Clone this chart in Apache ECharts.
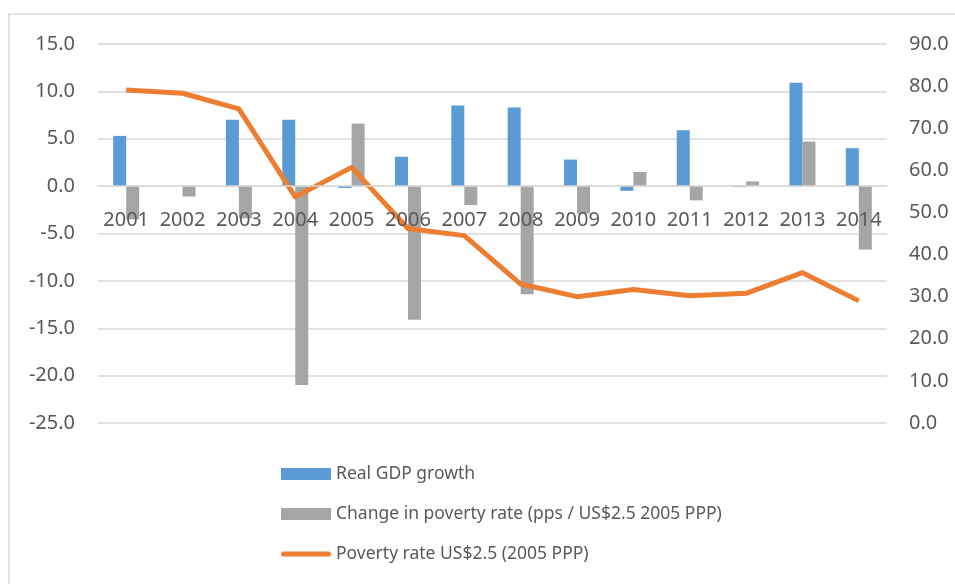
<!DOCTYPE html>
<html>
<head>
<meta charset="utf-8">
<script src="https://cdn.jsdelivr.net/npm/echarts@6/dist/echarts.min.js"></script>
<style>
  html, body { margin: 0; padding: 0; background: #fff; }
  #chart { width: 955px; height: 584px; }
</style>
</head>
<body>
<div id="chart"></div>
<script>
const years = ['2001', '2002', '2003', '2004', '2005', '2006', '2007', '2008', '2009', '2010', '2011', '2012', '2013', '2014']
const gdpGrowth = [5.3, 0, 7.0, 7.0, -0.2, 3.1, 8.5, 8.3, 2.8, -0.5, 5.9, -0.1, 10.9, 4.0]
const povertyChange = [-3.5, -1.1, -3.4, -21.0, 6.6, -14.1, -2.0, -11.4, -2.9, 1.5, -1.5, 0.5, 4.7, -6.7]
const povertyRate = [79.1, 78.3, 74.6, 53.7, 60.7, 46.2, 44.5, 33.0, 30.0, 31.7, 30.2, 30.8, 35.7, 29.0]

const textColor = '#595959'
const gridColor = '#D9D9D9'
const font = 'Noto Sans'

// rounded thick line for the legend of the line series
const lineIcon = 'path://M2.5,0 L47.5,0 A2.5,2.5,0,0,1,47.5,5 L2.5,5 A2.5,2.5,0,0,1,2.5,0 Z'

const chart = echarts.init(document.getElementById('chart'))

const option = {
  animation: false,
  backgroundColor: '#fff',
  textStyle: { fontFamily: font },
  graphic: [{
    type: 'rect',
    shape: { x: 9, y: 14, width: 960, height: 600 },
    style: { fill: 'none', stroke: gridColor, lineWidth: 1.5 },
    silent: true
  }],
  grid: { left: 98, right: 68, top: 44, bottom: 161, containLabel: false },
  legend: {
    orient: 'vertical',
    left: 276,
    top: 460,
    itemWidth: 50,
    itemHeight: 12,
    itemGap: 22,
    symbolKeepAspect: true,
    textStyle: { color: textColor, fontSize: 17.5, fontFamily: font },
    data: [
      { name: 'Real GDP growth', icon: 'rect' },
      { name: 'Change in poverty rate (pps / US$2.5 2005 PPP)', icon: 'rect' },
      { name: 'Poverty rate US$2.5 (2005 PPP)', icon: lineIcon }
    ]
  },
  xAxis: {
    type: 'category',
    data: years,
    axisLine: { onZero: true, onZeroAxisIndex: 0, lineStyle: { color: gridColor, width: 1.5 } },
    axisTick: { show: false },
    // labels sit just under the zero line, over the bars
    axisLabel: { color: textColor, fontSize: 20, margin: -213, fontFamily: font, interval: 0 },
    z: 10
  },
  yAxis: [{
    type: 'value',
    min: -25,
    max: 15,
    interval: 5,
    axisLine: { show: false },
    axisTick: { show: false },
    splitLine: { lineStyle: { color: gridColor, width: 1.5 } },
    axisLabel: { color: textColor, fontSize: 20, margin: 23, fontFamily: font, formatter: v => v.toFixed(1) }
  }, {
    type: 'value',
    min: 0,
    max: 90,
    interval: 10,
    axisLine: { show: false },
    axisTick: { show: false },
    splitLine: { show: false },
    axisLabel: { color: textColor, fontSize: 20, margin: 22, fontFamily: font, formatter: v => v.toFixed(1) }
  }],
  series: [{
    name: 'Real GDP growth',
    type: 'bar',
    yAxisIndex: 0,
    barWidth: 13,
    barGap: '0%',
    itemStyle: { color: '#5B9BD5' },
    data: gdpGrowth
  }, {
    name: 'Change in poverty rate (pps / US$2.5 2005 PPP)',
    type: 'bar',
    yAxisIndex: 0,
    barWidth: 13,
    barGap: '0%',
    itemStyle: { color: '#A5A5A5' },
    data: povertyChange
  }, {
    name: 'Poverty rate US$2.5 (2005 PPP)',
    type: 'line',
    yAxisIndex: 1,
    symbol: 'none',
    z: 5,
    itemStyle: { color: '#ED7D31' },
    lineStyle: { color: '#ED7D31', width: 5, join: 'round' },
    data: povertyRate
  }]
}

chart.setOption(option)
</script>
</body>
</html>
